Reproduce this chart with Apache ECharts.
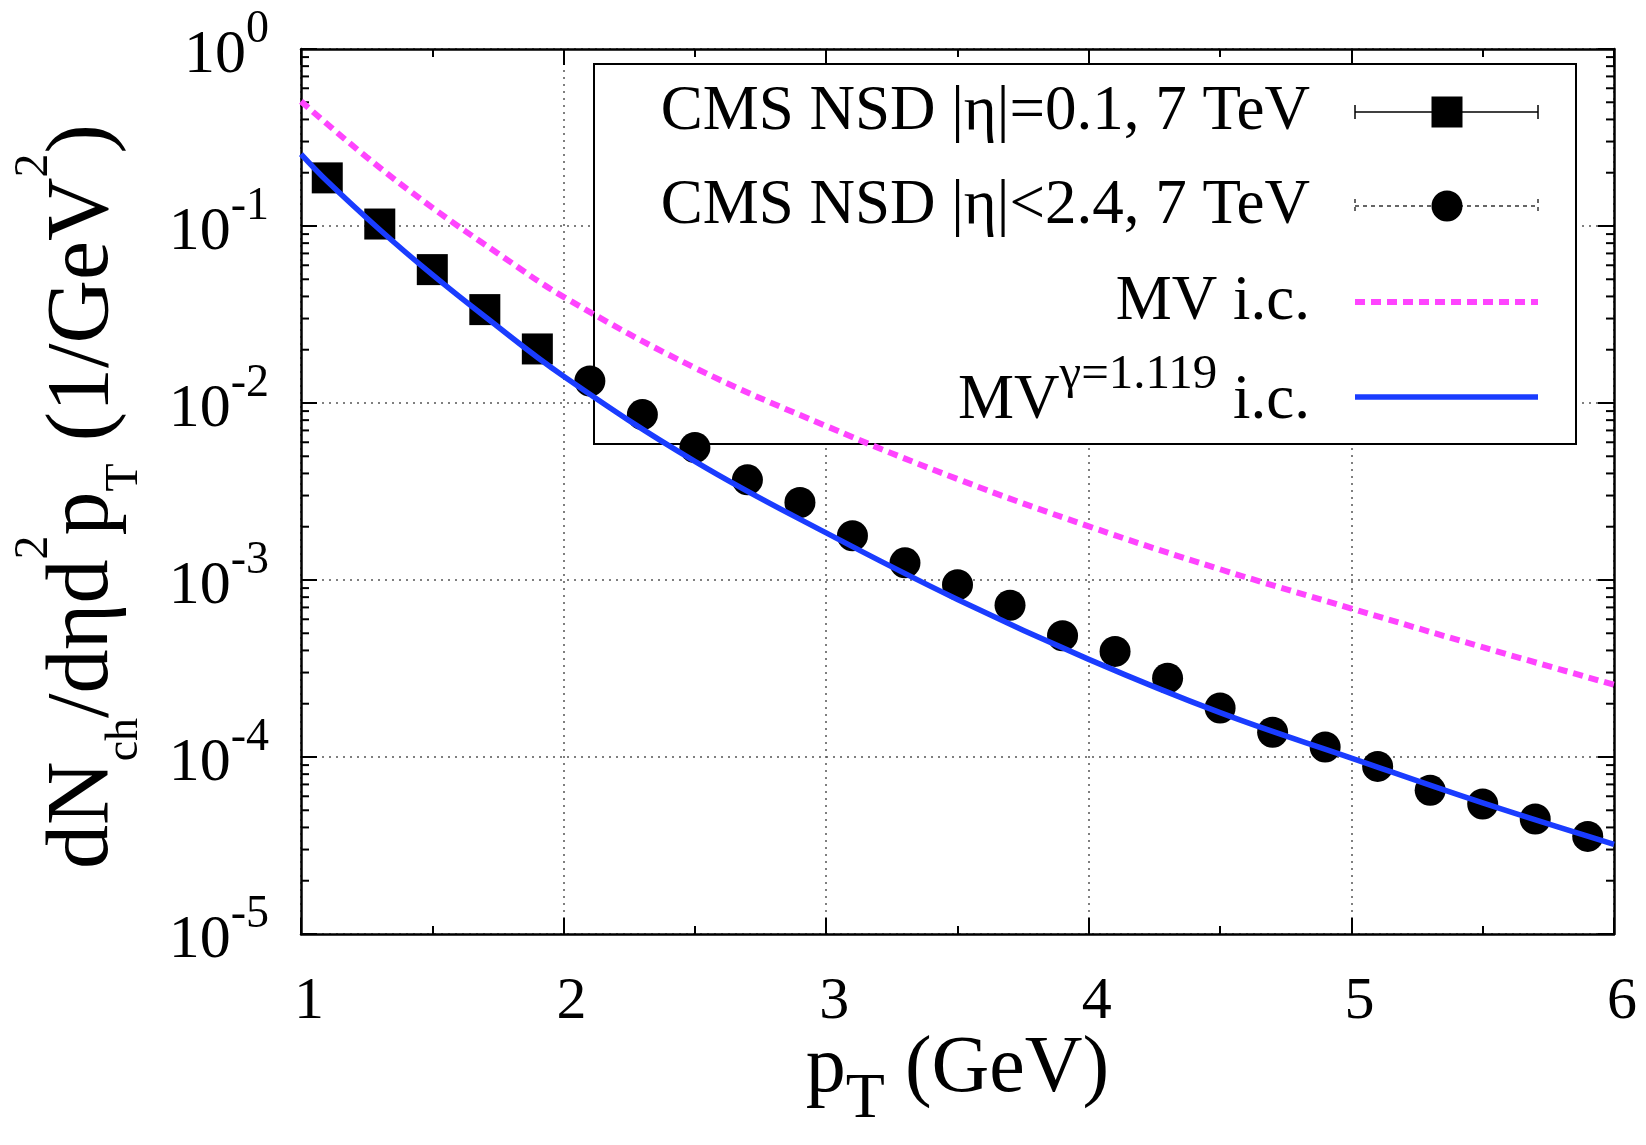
<!DOCTYPE html>
<html>
<head>
<meta charset="utf-8">
<title>CMS NSD charged hadron spectrum</title>
<script src="https://cdn.jsdelivr.net/npm/echarts@6.0.0/dist/echarts.min.js"></script>
<style>
  html, body { margin: 0; padding: 0; background: #fff; }
  #chart { width: 1646px; height: 1145px; }
</style>
</head>
<body>
<div id="chart"></div>
<script>
// CMS NSD |eta|=0.1, 7 TeV (squares)
var ptSquare = [1.1, 1.3, 1.5, 1.7, 1.9]
var cmsEta01 = [0.187, 0.1026, 0.0567, 0.0337, 0.0202]

// CMS NSD |eta|<2.4, 7 TeV (circles)
var ptCircle = [2.1, 2.3, 2.5, 2.7, 2.9, 3.1, 3.3, 3.5, 3.7, 3.9, 4.1, 4.3, 4.5, 4.7, 4.9, 5.1, 5.3, 5.5, 5.7, 5.9]
var cmsEta24 = [0.0133, 0.0086, 0.0056, 0.00368, 0.00274, 0.00178, 0.00125, 0.00094, 0.00072, 0.000484,
  0.000395, 0.000279, 0.000189, 0.000138, 0.000114, 0.0000885, 0.0000648, 0.0000542, 0.0000446, 0.0000356]

// MV i.c. (magenta dashed)
var ptMV = [1, 1.25, 1.5, 1.75, 2, 2.5, 3, 3.5, 4, 4.5, 5, 5.5, 6]
var mvIC = [0.506, 0.245, 0.127, 0.070, 0.0398, 0.0158, 0.00741, 0.00372, 0.00201, 0.00115, 0.00069, 0.000417, 0.000256]

// MV^gamma=1.119 i.c. (blue solid)
var ptMVg = [1, 1.1, 1.3, 1.5, 1.7, 2, 2.5, 3, 3.5, 4, 4.5, 5, 5.5, 6]
var mvGammaIC = [0.255, 0.179, 0.0953, 0.0531, 0.0308, 0.01416, 0.00468, 0.001845, 0.000776, 0.000356,
  0.000178, 0.0000986, 0.0000550, 0.0000321]

// log axis minor tick positions
var decades = [1e-5, 1e-4, 1e-3, 1e-2, 1e-1]
var minorMult = [2, 3, 4, 5, 6, 7, 8, 9]

var FONT = '"Liberation Serif", "Times New Roman", serif'
var MAGENTA = '#ff44ff'
var BLUE = '#1a3cff'

function pairs (xs, ys) {
  return xs.map(function (x, i) { return [x, ys[i]] })
}

var minorTicks = []
decades.forEach(function (d) {
  minorMult.forEach(function (m) { minorTicks.push([1, m * d]) })
})

var chart = echarts.init(document.getElementById('chart'))

var tickStyle = { color: '#000', width: 2 }
var frameStyle = { color: '#000', width: 2.5 }
var gridStyle = { color: '#555', width: 1.5, type: [2, 5] }

// rich text: sub/superscripts are shifted with unequal top/bottom padding
var option = {
  animation: false,
  backgroundColor: '#fff',
  grid: { left: 301, right: 32, top: 49, bottom: 211, outerBoundsMode: 'none', containLabel: false },
  xAxis: [
    {
      type: 'value',
      min: 1,
      max: 6,
      interval: 1,
      position: 'bottom',
      axisLine: { lineStyle: frameStyle },
      axisTick: { inside: true, length: 16, lineStyle: tickStyle },
      minorTick: { show: true, splitNumber: 2, length: 8, lineStyle: tickStyle },
      splitLine: { show: true, lineStyle: gridStyle },
      axisLabel: { margin: 38, fontSize: 60, fontFamily: FONT, color: '#000', padding: [0, 0, 0, 16] },
      name: '{m|p}{sub|T}{m| (GeV)}',
      nameLocation: 'middle',
      nameGap: 96,
      nameMoveOverlap: false,
      nameTextStyle: {
        rich: {
          m: { fontSize: 80, fontFamily: FONT, color: '#000', lineHeight: 80 },
          sub: { fontSize: 64, fontFamily: FONT, color: '#000', lineHeight: 64, padding: [60, 0, 0, 0] }
        }
      }
    },
    {
      type: 'value',
      min: 1,
      max: 6,
      interval: 1,
      position: 'top',
      axisLine: { lineStyle: frameStyle },
      axisTick: { inside: true, length: 16, lineStyle: tickStyle },
      minorTick: { show: true, splitNumber: 2, length: 8, lineStyle: tickStyle },
      splitLine: { show: false },
      axisLabel: { show: false }
    }
  ],
  yAxis: [
    {
      type: 'log',
      logBase: 10,
      min: 1e-5,
      max: 1,
      position: 'left',
      axisLine: { lineStyle: frameStyle },
      axisTick: { inside: true, length: 16, lineStyle: tickStyle },
      splitLine: { show: true, lineStyle: gridStyle },
      axisLabel: {
        margin: 32,
        formatter: function (v) {
          var e = Math.round(Math.log10(v))
          return '{b|10}{s|' + e + '}'
        },
        rich: {
          b: { fontSize: 62, fontFamily: FONT, color: '#000', lineHeight: 62, padding: [14, 0, 0, 0] },
          s: { fontSize: 46, fontFamily: FONT, color: '#000', lineHeight: 46, padding: [0, 0, 39, 0] }
        }
      },
      name: '{m|dN}{sub|ch}{m|/dηd}{sup|2}{m|p}{sub|T}{m| (1/GeV}{sup|2}{m|)}',
      nameLocation: 'middle',
      nameRotate: 90,
      nameGap: 146,
      nameTextStyle: {
        padding: [0, 10, 0, 0],
        rich: {
          m: { fontSize: 88, fontFamily: FONT, color: '#000', lineHeight: 88 },
          sub: { fontSize: 46, fontFamily: FONT, color: '#000', lineHeight: 46, padding: [81, 0, 0, 0] },
          sup: { fontSize: 48, fontFamily: FONT, color: '#000', lineHeight: 48, padding: [0, 0, 99, 0] }
        }
      }
    },
    {
      type: 'log',
      logBase: 10,
      min: 1e-5,
      max: 1,
      position: 'right',
      axisLine: { lineStyle: frameStyle },
      axisTick: { inside: true, length: 16, lineStyle: tickStyle },
      splitLine: { show: false },
      axisLabel: { show: false }
    }
  ],
  graphic: [
    { type: 'rect', z: 1, shape: { x: 594, y: 64, width: 982, height: 380 }, style: { fill: '#fff', stroke: '#000', lineWidth: 2 } },
    // row 1
    { type: 'text', z: 1, x: 1310, y: 112, style: { text: 'CMS NSD |η|=0.1, 7 TeV', font: '63px ' + FONT, fill: '#000', align: 'right', verticalAlign: 'middle' } },
    { type: 'line', z: 1, shape: { x1: 1355, y1: 112, x2: 1538, y2: 112 }, style: { stroke: '#000', lineWidth: 1.5 } },
    { type: 'line', z: 1, shape: { x1: 1355, y1: 105, x2: 1355, y2: 119 }, style: { stroke: '#000', lineWidth: 1.5 } },
    { type: 'line', z: 1, shape: { x1: 1538, y1: 105, x2: 1538, y2: 119 }, style: { stroke: '#000', lineWidth: 1.5 } },
    { type: 'rect', z: 1, shape: { x: 1431.5, y: 96.5, width: 31, height: 31 }, style: { fill: '#000' } },
    // row 2
    { type: 'text', z: 1, x: 1310, y: 206, style: { text: 'CMS NSD |η|<2.4, 7 TeV', font: '63px ' + FONT, fill: '#000', align: 'right', verticalAlign: 'middle' } },
    { type: 'line', z: 1, shape: { x1: 1355, y1: 206, x2: 1538, y2: 206 }, style: { stroke: '#333', lineWidth: 1.5, lineDash: [4, 4] } },
    { type: 'line', z: 1, shape: { x1: 1355, y1: 199, x2: 1355, y2: 213 }, style: { stroke: '#333', lineWidth: 1.5, lineDash: [4, 4] } },
    { type: 'line', z: 1, shape: { x1: 1538, y1: 199, x2: 1538, y2: 213 }, style: { stroke: '#333', lineWidth: 1.5, lineDash: [4, 4] } },
    { type: 'circle', z: 1, shape: { cx: 1447, cy: 206, r: 15.5 }, style: { fill: '#000' } },
    // row 3
    { type: 'text', z: 1, x: 1310, y: 302, style: { text: 'MV i.c.', font: '63px ' + FONT, fill: '#000', align: 'right', verticalAlign: 'middle' } },
    { type: 'line', z: 1, shape: { x1: 1355, y1: 302, x2: 1538, y2: 302 }, style: { stroke: MAGENTA, lineWidth: 6, lineDash: [10, 6] } },
    // row 4
    {
      type: 'text', z: 1, x: 1310, y: 401,
      style: {
        text: '{m|MV}{s|γ=1.119}{m| i.c.}',
        fill: '#000', align: 'right', verticalAlign: 'middle',
        rich: {
          m: { fontSize: 63, fontFamily: FONT, fill: '#000', lineHeight: 63 },
          s: { fontSize: 49, fontFamily: FONT, fill: '#000', lineHeight: 49, padding: [0, 0, 51, 0] }
        }
      }
    },
    { type: 'line', z: 1, shape: { x1: 1355, y1: 397, x2: 1538, y2: 397 }, style: { stroke: BLUE, lineWidth: 5.5 } }
  ],
  series: [
    {
      type: 'custom',
      name: 'minor ticks',
      silent: true,
      clip: false,
      xAxisIndex: 0,
      yAxisIndex: 0,
      data: minorTicks,
      renderItem: function (params, api) {
        var v = api.value(1)
        var l = api.coord([1, v])
        var r = api.coord([6, v])
        return {
          type: 'group',
          children: [
            { type: 'line', shape: { x1: l[0], y1: l[1], x2: l[0] + 8, y2: l[1] }, style: { stroke: '#000', lineWidth: 2 } },
            { type: 'line', shape: { x1: r[0] - 8, y1: r[1], x2: r[0], y2: r[1] }, style: { stroke: '#000', lineWidth: 2 } }
          ]
        }
      }
    },
    {
      name: 'CMS NSD |η|=0.1, 7 TeV',
      type: 'scatter',
      symbol: 'rect',
      symbolSize: 31,
      itemStyle: { color: '#000', opacity: 1 },
      data: pairs(ptSquare, cmsEta01)
    },
    {
      name: 'CMS NSD |η|<2.4, 7 TeV',
      type: 'scatter',
      symbol: 'circle',
      symbolSize: 31,
      itemStyle: { color: '#000', opacity: 1 },
      data: pairs(ptCircle, cmsEta24)
    },
    {
      name: 'MV i.c.',
      type: 'line',
      smooth: 0.4,
      showSymbol: false,
      lineStyle: { color: MAGENTA, width: 6, type: [10, 6] },
      data: pairs(ptMV, mvIC)
    },
    {
      name: 'MV γ=1.119 i.c.',
      type: 'line',
      smooth: 0.4,
      showSymbol: false,
      lineStyle: { color: BLUE, width: 5.5 },
      data: pairs(ptMVg, mvGammaIC)
    }
  ]
}

chart.setOption(option)
</script>
</body>
</html>
